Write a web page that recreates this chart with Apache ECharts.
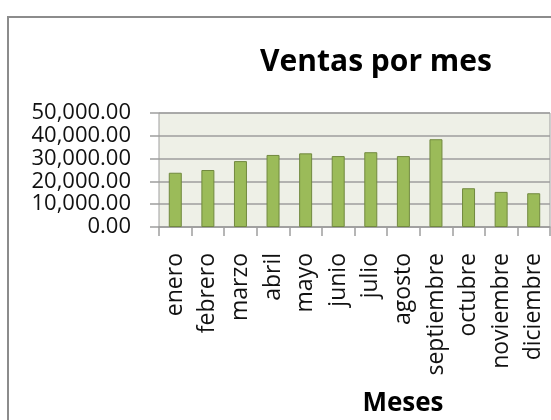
<!DOCTYPE html>
<html>
<head>
<meta charset="utf-8">
<script src="https://cdn.jsdelivr.net/npm/echarts@6/dist/echarts.min.js"></script>
<style>
  html, body { margin: 0; padding: 0; background: #fff; }
  #chart { width: 551px; height: 420px; }
</style>
</head>
<body>
<div id="chart"></div>
<script>
// datos
const meses = ['enero', 'febrero', 'marzo', 'abril', 'mayo', 'junio', 'julio',
  'agosto', 'septiembre', 'octubre', 'noviembre', 'diciembre'];
const ventas = [23800, 25000, 28900, 31600, 32300, 31100, 32800,
  31100, 38500, 17000, 15400, 14800];

const fontName = 'Open Sans';

const chart = echarts.init(document.getElementById('chart'));

const option = {
  animation: false,
  textStyle: { fontFamily: fontName },
  graphic: [
    {
      // marco exterior (se sale de la ventana por la derecha y abajo)
      type: 'rect',
      shape: { x: 8, y: 17, width: 700, height: 500 },
      style: { fill: 'none', stroke: '#8c8c8c', lineWidth: 2 },
      silent: true
    },
    {
      type: 'text',
      x: 376, y: 62,
      style: {
        text: 'Ventas por mes',
        font: 'bold 30px "Open Sans"',
        fill: '#000',
        align: 'center',
        verticalAlign: 'middle'
      }
    },
    {
      type: 'text',
      x: 403, y: 404,
      style: {
        text: 'Meses',
        font: 'bold 26px "Open Sans"',
        fill: '#000',
        align: 'center',
        verticalAlign: 'middle'
      }
    }
  ],
  grid: {
    left: 159,
    top: 113,
    right: 1,
    height: 114,
    show: true,
    backgroundColor: '#eef0e7',
    borderColor: '#9e9e9e',
    borderWidth: 1
  },
  xAxis: {
    type: 'category',
    data: meses,
    axisLine: { lineStyle: { color: '#9e9e9e', width: 1.5 } },
    axisTick: { show: true, length: 9, alignWithLabel: false, lineStyle: { color: '#9e9e9e', width: 1.5 } },
    axisLabel: {
      rotate: 90,
      interval: 0,
      margin: 26,
      color: '#111',
      fontSize: 23,
      fontFamily: fontName
    }
  },
  yAxis: {
    type: 'value',
    min: 0,
    max: 50000,
    interval: 10000,
    axisLine: { show: false },
    axisTick: { show: true, length: 9, lineStyle: { color: '#9e9e9e', width: 1.5 } },
    splitLine: { lineStyle: { color: '#9e9e9e', width: 1.5 } },
    axisLabel: {
      margin: 28,
      color: '#111',
      fontSize: 22,
      fontFamily: fontName,
      showMinLabel: true,
      showMaxLabel: true,
      formatter: v => v.toLocaleString('en-US', { minimumFractionDigits: 2, maximumFractionDigits: 2 })
    }
  },
  series: [{
    type: 'bar',
    data: ventas,
    barWidth: 13,
    itemStyle: {
      color: '#9bbb59',
      borderColor: '#71893f',
      borderWidth: 1
    }
  }]
};

chart.setOption(option);
</script>
</body>
</html>
